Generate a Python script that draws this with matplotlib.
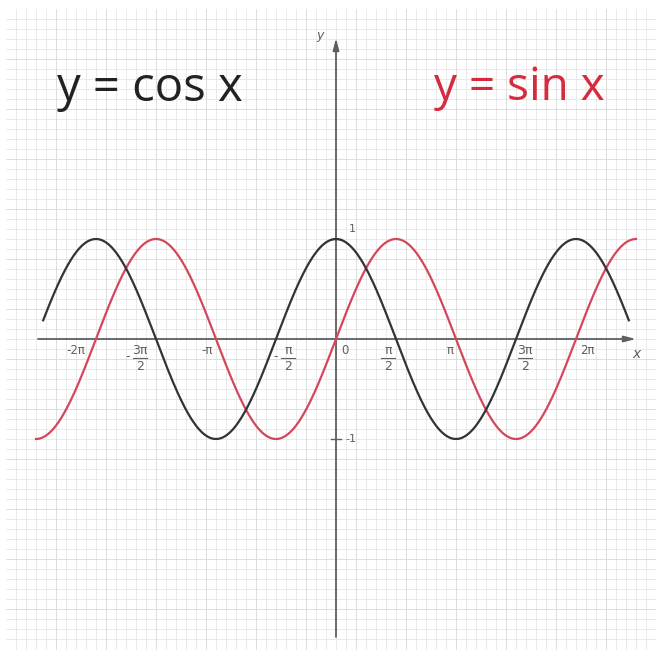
import numpy as np
import matplotlib
matplotlib.use("Agg")
import matplotlib.pyplot as plt

# Curve domains (radians)
sin_range = (-2.5 * np.pi, 2.5 * np.pi)
cos_range = (-2.44 * np.pi, 2.44 * np.pi)

# Whole-multiple tick labels along x (value in multiples of pi, text)
x_ticks = [-2.0, -1.0, 1.0, 2.0]
x_tick_text = ["-2π", "-π", "π", "2π"]
# Half-multiple ticks drawn as stacked fractions (value, numerator)
frac_ticks = [-1.5, -0.5, 0.5, 1.5]
frac_num = ["3π", "π", "π", "3π"]
y_ticks = [1, -1]
y_tick_text = ["1", "-1"]

titles = ["y = cos x", "y = sin x"]

W, H = 659, 661
fig = plt.figure(figsize=(W / 100, H / 100), dpi=100)
fig.patch.set_facecolor("white")

# Graph-paper background in pixel units
bg = fig.add_axes([0, 0, 1, 1])
bg.set_xlim(0, W)
bg.set_ylim(H, 0)
bg.axis("off")
gx0, gx1, gy0, gy1 = 6, 655, 9, 649
for i, x in enumerate(np.arange(gx0 + 10, gx1, 10)):
    major = (i + 1) % 5 == 0
    bg.plot([x, x], [gy0, gy1], color="#d8d8d8" if major else "#e7e7e7",
            lw=0.6, zorder=1 if major else 0)
for i, y in enumerate(np.arange(gy0 + 10, gy1, 10)):
    major = (i + 1) % 5 == 0
    bg.plot([gx0, gx1], [y, y], color="#d8d8d8" if major else "#e7e7e7",
            lw=0.6, zorder=1 if major else 0)

# Function plot: 1 rad = 38.2 px, 1 unit = 100 px, origin at (336, 339)
sx, sy, ox, oy = 38.2, 100.0, 336, 339
ax = fig.add_axes([0, 0, 1, 1])
ax.patch.set_alpha(0)
ax.set_xlim(-ox / sx, (W - ox) / sx)
ax.set_ylim(-(H - oy) / sy, oy / sy)
ax.axis("off")

axis_col = "#5f5f5f"
arrow = dict(arrowstyle="-|>,head_length=0.7,head_width=0.18",
             color=axis_col, lw=1.3, shrinkA=0, shrinkB=0)
ax.annotate("", xy=((636 - ox) / sx, 0), xytext=((38 - ox) / sx, 0), arrowprops=arrow)
ax.annotate("", xy=(0, (oy - 38) / sy), xytext=(0, (oy - 637) / sy), arrowprops=arrow)

# Curves
xs = np.linspace(*sin_range, 800)
ax.plot(xs, np.sin(xs), color="#d4475b", lw=1.6, zorder=5)
xc = np.linspace(*cos_range, 800)
ax.plot(xc, np.cos(xc), color="#333333", lw=1.6, zorder=6)

# y ticks
for v, t in zip(y_ticks, y_tick_text):
    ax.plot([-5 / sx, 5 / sx], [v, v], color=axis_col, lw=1.0)
    dx, dy = (13, 10) if v > 0 else (9, 0)
    ax.text(dx / sx, v + dy / sy, t, fontsize=8, color=axis_col,
            ha="left", va="center")

lab = dict(color=axis_col, family="DejaVu Sans", ha="center", va="center")
for v, t in zip(x_ticks, x_tick_text):
    off = {-2.0: -20, -1.0: -9, 1.0: -6, 2.0: 11}[v]
    ax.text(v * np.pi + off / sx, -12 / sy, t, fontsize=8.5, **lab)
ax.text(9 / sx, -11 / sy, "0", fontsize=8.5, **lab)

# Stacked fractions
for v, num in zip(frac_ticks, frac_num):
    off = {-1.5: -16, -0.5: 12, 0.5: -8, 1.5: 9}[v]
    cx = v * np.pi + off / sx
    ax.text(cx, -11 / sy, num, fontsize=9, **lab)
    ax.plot([cx - 7 / sx, cx + 7 / sx], [-19 / sy, -19 / sy], color=axis_col, lw=0.8)
    ax.text(cx, -28 / sy, "2", fontsize=9, **lab)
    if v < 0:
        ax.text(cx - 12 / sx, -18 / sy, "-", fontsize=9, **lab)

# Axis names
ax.text((636 - ox) / sx, -15 / sy, "x", fontsize=10, style="italic", **lab)
ax.text((320 - ox) / sx, (oy - 36) / sy, "y", fontsize=9, style="italic", **lab)

# Titles
fig.text(57 / W, 1 - 88 / H, titles[0], fontsize=34, family="Open Sans",
         color="#222222", ha="left", va="center")
fig.text(605 / W, 1 - 88 / H, titles[1], fontsize=33, family="Open Sans",
         color="#d62a3e", ha="right", va="center")

fig.savefig("out.png", dpi=100, facecolor="white")
